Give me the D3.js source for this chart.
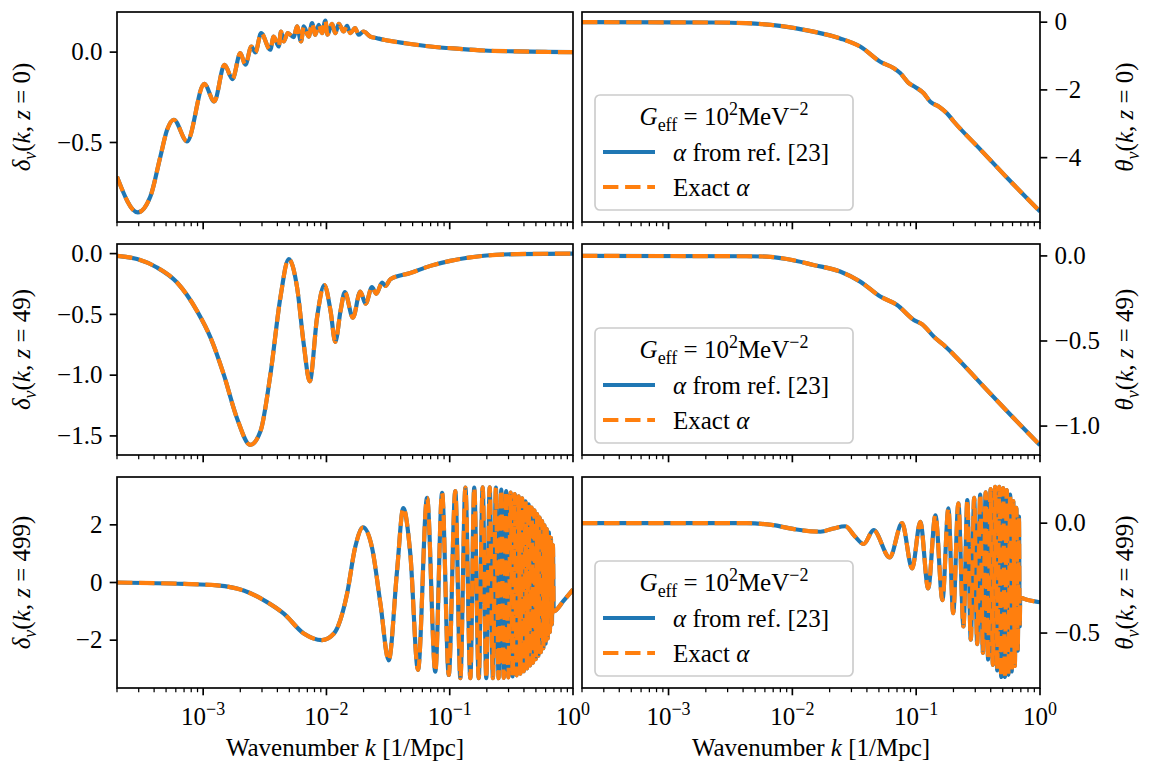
<!DOCTYPE html>
<html>
<head>
<meta charset="utf-8">
<script src="https://cdn.jsdelivr.net/npm/d3@7"></script>
<style>
  body { margin: 0; background: #fff; }
  text { font-family: "Liberation Serif", "DejaVu Serif", serif; fill: #000; }
</style>
</head>
<body>
<svg id="fig" width="1149" height="763"></svg>
<script>
// ---- data ----
var kDomain = [2e-4, 1];
var xTickExps = [-3, -2, -1, 0];

// delta_nu(k, z=0)
var kDelta0 = [2.0e-4, 2.95e-4, 3.73e-4, 4.5e-4, 5.1e-4, 5.78e-4, 7.4e-4, 1.02e-3, 1.23e-3, 1.49e-3, 1.73e-3, 2.0e-3, 2.2e-3, 2.46e-3, 2.65e-3, 2.95e-3, 3.5e-3, 3.73e-3, 4.1e-3, 4.28e-3, 4.5e-3, 4.85e-3, 5.43e-3, 5.77e-3, 6.22e-3, 6.55e-3, 7.18e-3, 7.64e-3, 8.13e-3, 8.65e-3, 9.2e-3, 9.8e-3, 1.02e-2, 1.11e-2, 1.18e-2, 1.26e-2, 1.38e-2, 1.47e-2, 1.56e-2, 1.71e-2, 1.82e-2, 2.0e-2, 2.27e-2, 2.57e-2, 2.92e-2, 4.5e-2, 6.97e-2, 0.12, 0.189, 0.35, 0.6, 1.0];
var delta0 = [-0.689, -0.887, -0.799, -0.577, -0.430, -0.374, -0.494, -0.175, -0.273, -0.070, -0.149, -0.006, -0.070, 0.031, -0.002, 0.105, 0.013, 0.086, 0.031, 0.114, 0.059, 0.105, 0.083, 0.142, 0.059, 0.142, 0.086, 0.160, 0.096, 0.151, 0.105, 0.175, 0.096, 0.157, 0.105, 0.157, 0.114, 0.145, 0.105, 0.133, 0.096, 0.114, 0.086, 0.077, 0.068, 0.048, 0.031, 0.018, 0.009, 0.004, 0.001, 0.0];

// theta_nu(k, z=0)
var kTheta0 = [2.0e-4, 2.28e-3, 4.26e-3, 7.93e-3, 1.48e-2, 2.43e-2, 3.53e-2, 5.13e-2, 6.6e-2, 7.46e-2, 8.71e-2, 9.87e-2, 0.115, 0.130, 0.152, 0.177, 0.202, 0.332, 0.547, 1.0];
var theta0 = [0.0, -0.01, -0.03, -0.11, -0.28, -0.48, -0.72, -1.17, -1.36, -1.51, -1.80, -1.92, -2.10, -2.35, -2.49, -2.69, -2.94, -3.77, -4.61, -5.59];

// delta_nu(k, z=49)
var kDelta49 = [2.0e-4, 2.91e-4, 4.22e-4, 6.14e-4, 8.93e-4, 1.15e-3, 1.47e-3, 1.88e-3, 2.41e-3, 2.91e-3, 3.51e-3, 4.23e-3, 4.94e-3, 5.78e-3, 6.55e-3, 7.32e-3, 8.39e-3, 9.62e-3, 1.08e-2, 1.18e-2, 1.30e-2, 1.41e-2, 1.64e-2, 1.88e-2, 2.08e-2, 2.34e-2, 2.54e-2, 2.83e-2, 3.01e-2, 3.30e-2, 4.79e-2, 6.97e-2, 0.101, 0.189, 0.351, 1.0];
var delta49 = [-0.018, -0.045, -0.114, -0.238, -0.473, -0.693, -0.996, -1.354, -1.574, -1.464, -0.996, -0.362, -0.045, -0.279, -0.748, -1.051, -0.527, -0.258, -0.473, -0.726, -0.473, -0.317, -0.527, -0.312, -0.412, -0.276, -0.331, -0.238, -0.266, -0.211, -0.160, -0.101, -0.060, -0.018, -0.004, 0.0];

// theta_nu(k, z=49)
var kTheta49 = [2.0e-4, 4.26e-3, 6.19e-3, 9.0e-3, 1.48e-2, 2.43e-2, 3.53e-2, 5.13e-2, 7.01e-2, 9.57e-2, 0.112, 0.139, 0.167, 0.202, 0.332, 0.547, 1.0];
var theta49 = [0.0, -0.002, -0.004, -0.018, -0.053, -0.092, -0.151, -0.239, -0.288, -0.376, -0.402, -0.475, -0.524, -0.582, -0.749, -0.916, -1.112];

// delta_nu(k, z=499)
var kDelta499 = [2.0e-4, 6.96e-4, 1.30e-3, 2.13e-3, 3.30e-3, 4.51e-3, 6.55e-3, 9.2e-3, 1.15e-2, 1.47e-2, 1.71e-2, 1.98e-2, 2.34e-2, 2.74e-2, 3.20e-2, 3.74e-2, 4.20e-2, 4.79e-2, 5.53e-2, 6.55e-2, 7.64e-2, 8.67e-2, 9.82e-2, 0.111, 0.122, 0.134, 0.147, 0.158, 0.172, 0.185, 0.198, 0.211, 0.224, 0.237, 0.249, 0.262, 0.274, 0.287, 0.299, 0.312, 0.324, 0.337, 0.349, 0.362, 0.374, 0.387, 0.399, 0.412, 0.424, 0.437, 0.449, 0.462, 0.474, 0.487, 0.499, 0.512, 0.524, 0.537, 0.549, 0.562, 0.574, 0.587, 0.599, 0.612, 0.624, 0.637, 0.649, 0.662, 0.674, 0.687, 0.698, 0.84, 1.0];
var delta499 = [0.0, -0.05, -0.10, -0.28, -0.68, -1.08, -1.77, -2.0, -1.77, -0.39, 1.22, 1.91, 1.22, -0.73, -2.70, 0.41, 2.58, 0.99, -3.03, 2.94, -3.09, 3.11, -3.21, 3.17, -3.32, 3.29, -3.32, 3.29, -3.32, 3.30, -3.32, 3.30, -3.32, 3.29, -3.32, 3.22, -3.31, 3.17, -3.29, 3.12, -3.26, 3.07, -3.22, 2.99, -3.16, 2.92, -3.08, 2.82, -2.98, 2.71, -2.88, 2.60, -2.78, 2.50, -2.66, 2.37, -2.54, 2.25, -2.42, 2.13, -2.28, 1.98, -2.12, 1.85, -1.94, 1.74, -1.72, 1.55, -1.45, 1.30, -1.0, -0.63, -0.24];

// theta_nu(k, z=499)
var kTheta499 = [2.0e-4, 4.26e-3, 7.0e-3, 1.08e-2, 1.68e-2, 2.15e-2, 2.67e-2, 3.22e-2, 3.76e-2, 4.53e-2, 6.11e-2, 7.69e-2, 9.27e-2, 0.108, 0.125, 0.143, 0.163, 0.182, 0.199, 0.219, 0.241, 0.259, 0.276, 0.294, 0.311, 0.329, 0.346, 0.364, 0.381, 0.399, 0.416, 0.434, 0.451, 0.469, 0.486, 0.504, 0.521, 0.539, 0.556, 0.574, 0.591, 0.609, 0.626, 0.644, 0.661, 0.676, 0.686, 0.692, 0.8, 1.0];
var theta499 = [0.0, 0.0, -0.009, -0.029, -0.039, -0.024, -0.014, -0.062, -0.095, -0.032, -0.156, 0.0, -0.206, 0.006, -0.297, 0.036, -0.35, 0.067, -0.41, 0.09, -0.47, 0.105, -0.53, 0.115, -0.55, 0.13, -0.59, 0.14, -0.62, 0.155, -0.645, 0.165, -0.67, 0.165, -0.70, 0.16, -0.70, 0.15, -0.69, 0.13, -0.675, 0.10, -0.65, 0.07, -0.58, 0.03, -0.47, -0.34, -0.35, -0.36];

// y ticks
var yTicksDelta0 = [0, -0.5];
var yTicksTheta0 = [0, -2, -4];
var yTicksDelta49 = [0, -0.5, -1.0, -1.5];
var yTicksTheta49 = [0, -0.5, -1.0];
var yTicksDelta499 = [2, 0, -2];
var yTicksTheta499 = [0, -0.5];

var redshifts = ["0", "49", "499"];
var seriesNames = ["ref", "exact"];

// ---- layout ----
var FS = 25;
var LW = 4.17;
var blue = "#1f77b4", orange = "#ff7f0e";
var cols = [{x0: 117, x1: 573}, {x0: 582, x1: 1040}];
var rows = [{y0: 12, y1: 222}, {y0: 244, y1: 455}, {y0: 477, y1: 688}];

var panels = [
  {r: 0, c: 0, k: kDelta0,   v: delta0,   dom: [-0.94, 0.222],  ticks: yTicksDelta0,   fmt: ".1f", sym: "δ"},
  {r: 0, c: 1, k: kTheta0,   v: theta0,   dom: [-5.9, 0.3],     ticks: yTicksTheta0,   fmt: "d",   sym: "θ"},
  {r: 1, c: 0, k: kDelta49,  v: delta49,  dom: [-1.657, 0.079], ticks: yTicksDelta49,  fmt: ".1f", sym: "δ"},
  {r: 1, c: 1, k: kTheta49,  v: theta49,  dom: [-1.17, 0.07],   ticks: yTicksTheta49,  fmt: ".1f", sym: "θ"},
  {r: 2, c: 0, k: kDelta499, v: delta499, dom: [-3.66, 3.66],   ticks: yTicksDelta499, fmt: "d",   sym: "δ"},
  {r: 2, c: 1, k: kTheta499, v: theta499, dom: [-0.75, 0.21],   ticks: yTicksTheta499, fmt: ".1f", sym: "θ"}
];

var svg = d3.select("#fig");

// write a bit of math-like text with tspans
function rich(sel, parts) {
  var shift = 0;
  parts.forEach(function(p) {
    var target = p.sub ? 6 : (p.sup ? -10 : 0);
    var ts = sel.append("tspan").text(p.t);
    if (target - shift !== 0) ts.attr("dy", target - shift);
    shift = target;
    if (p.sub || p.sup) ts.attr("font-size", 18);
    if (p.i) ts.attr("font-style", "italic");
  });
  return sel;
}

var minorTicks = [];
for (var e = -4; e < 0; e++) {
  for (var m = 2; m <= 9; m++) {
    var v = m * Math.pow(10, e);
    if (v >= kDomain[0] * 0.999 && v <= kDomain[1]) minorTicks.push(v);
  }
}

panels.forEach(function(p, i) {
  var col = cols[p.c], row = rows[p.r];
  var x = d3.scaleLog().domain(kDomain).range([col.x0, col.x1]);
  var y = d3.scaleLinear().domain(p.dom).range([row.y1, row.y0]);
  var pts = p.k.map(function(kk, j) { return [kk, p.v[j]]; });

  var clipId = "clip" + i;
  svg.append("clipPath").attr("id", clipId).append("rect")
    .attr("x", col.x0).attr("y", row.y0)
    .attr("width", col.x1 - col.x0).attr("height", row.y1 - row.y0);

  var line = d3.line()
    .x(function(d) { return x(d[0]); })
    .y(function(d) { return y(d[1]); })
    .curve(d3.curveMonotoneX);

  var g = svg.append("g").attr("clip-path", "url(#" + clipId + ")");
  seriesNames.forEach(function(s) {
    g.append("path")
      .attr("d", line(pts))
      .attr("fill", "none")
      .attr("stroke", s === "ref" ? blue : orange)
      .attr("stroke-width", LW)
      .attr("stroke-dasharray", s === "ref" ? null : "15.4,6.7")
      .attr("stroke-linejoin", "round");
  });

  // x axis ticks (bottom)
  var xb = svg.append("g");
  minorTicks.forEach(function(t) {
    xb.append("line").attr("x1", x(t)).attr("x2", x(t))
      .attr("y1", row.y1).attr("y2", row.y1 + 4.2)
      .attr("stroke", "#000").attr("stroke-width", 1.25);
  });
  xTickExps.forEach(function(ex) {
    var t = Math.pow(10, ex);
    xb.append("line").attr("x1", x(t)).attr("x2", x(t))
      .attr("y1", row.y1).attr("y2", row.y1 + 7.3)
      .attr("stroke", "#000").attr("stroke-width", 1.67);
    if (p.r === 2) {
      var lab = xb.append("text").attr("x", x(t)).attr("y", row.y1 + 37)
        .attr("text-anchor", "middle").attr("font-size", FS);
      rich(lab, [{t: "10"}, {t: (ex < 0 ? "−" + (-ex) : "" + ex), sup: 1}]);
    }
  });
  if (p.r === 2) {
    var xl = svg.append("text").attr("x", (col.x0 + col.x1) / 2).attr("y", 756)
      .attr("text-anchor", "middle").attr("font-size", FS);
    rich(xl, [{t: "Wavenumber "}, {t: "k", i: 1}, {t: " [1/Mpc]"}]);
  }

  // y axis
  var fmt = d3.format(p.fmt);
  var left = p.c === 0;
  var ax0 = left ? col.x0 : col.x1;
  var dir = left ? -1 : 1;
  p.ticks.forEach(function(t) {
    svg.append("line").attr("x1", ax0).attr("x2", ax0 + dir * 7.3)
      .attr("y1", y(t)).attr("y2", y(t))
      .attr("stroke", "#000").attr("stroke-width", 1.67);
    svg.append("text").attr("x", ax0 + dir * 14.6).attr("y", y(t))
      .attr("dy", "0.33em")
      .attr("text-anchor", left ? "end" : "start")
      .attr("font-size", FS)
      .text(fmt(t));
  });
  var yc = (row.y0 + row.y1) / 2;
  var lx = left ? 30 : 1133;
  var yl = svg.append("text")
    .attr("transform", "translate(" + lx + "," + yc + ") rotate(-90)")
    .attr("text-anchor", "middle").attr("font-size", FS);
  rich(yl, [{t: p.sym, i: 1}, {t: "ν", i: 1, sub: 1}, {t: "("}, {t: "k", i: 1},
            {t: ", "}, {t: "z", i: 1}, {t: " = " + redshifts[p.r] + ")"}]);

  // frame
  svg.append("rect").attr("x", col.x0).attr("y", row.y0)
    .attr("width", col.x1 - col.x0).attr("height", row.y1 - row.y0)
    .attr("fill", "none").attr("stroke", "#000").attr("stroke-width", 1.67);

  // legend in right-hand panels
  if (p.c === 1) {
    var bx = col.x0 + 13, bw = 258, bh = 115, by = row.y1 - 12 - bh;
    var lg = svg.append("g");
    lg.append("rect").attr("x", bx).attr("y", by).attr("width", bw).attr("height", bh)
      .attr("rx", 5).attr("fill", "#fff").attr("fill-opacity", 0.8)
      .attr("stroke", "#cccccc").attr("stroke-width", 1.67);
    var tt = lg.append("text").attr("x", bx + bw / 2).attr("y", by + 30)
      .attr("text-anchor", "middle").attr("font-size", FS);
    rich(tt, [{t: "G", i: 1}, {t: "eff", sub: 1}, {t: " = 10"}, {t: "2", sup: 1}, {t: "MeV"}, {t: "−2", sup: 1}]);
    var entries = [
      {s: "ref", parts: [{t: "α", i: 1}, {t: " from ref. [23]"}]},
      {s: "exact", parts: [{t: "Exact "}, {t: "α", i: 1}]}
    ];
    entries.forEach(function(en, j) {
      var ly = by + 57 + j * 35;
      lg.append("line").attr("x1", bx + 8).attr("x2", bx + 60)
        .attr("y1", ly).attr("y2", ly)
        .attr("stroke", en.s === "ref" ? blue : orange)
        .attr("stroke-width", LW)
        .attr("stroke-dasharray", en.s === "ref" ? null : "15.4,6.7");
      var et = lg.append("text").attr("x", bx + 78).attr("y", ly + 9).attr("font-size", FS);
      rich(et, en.parts);
    });
  }
});
</script>
</body>
</html>
